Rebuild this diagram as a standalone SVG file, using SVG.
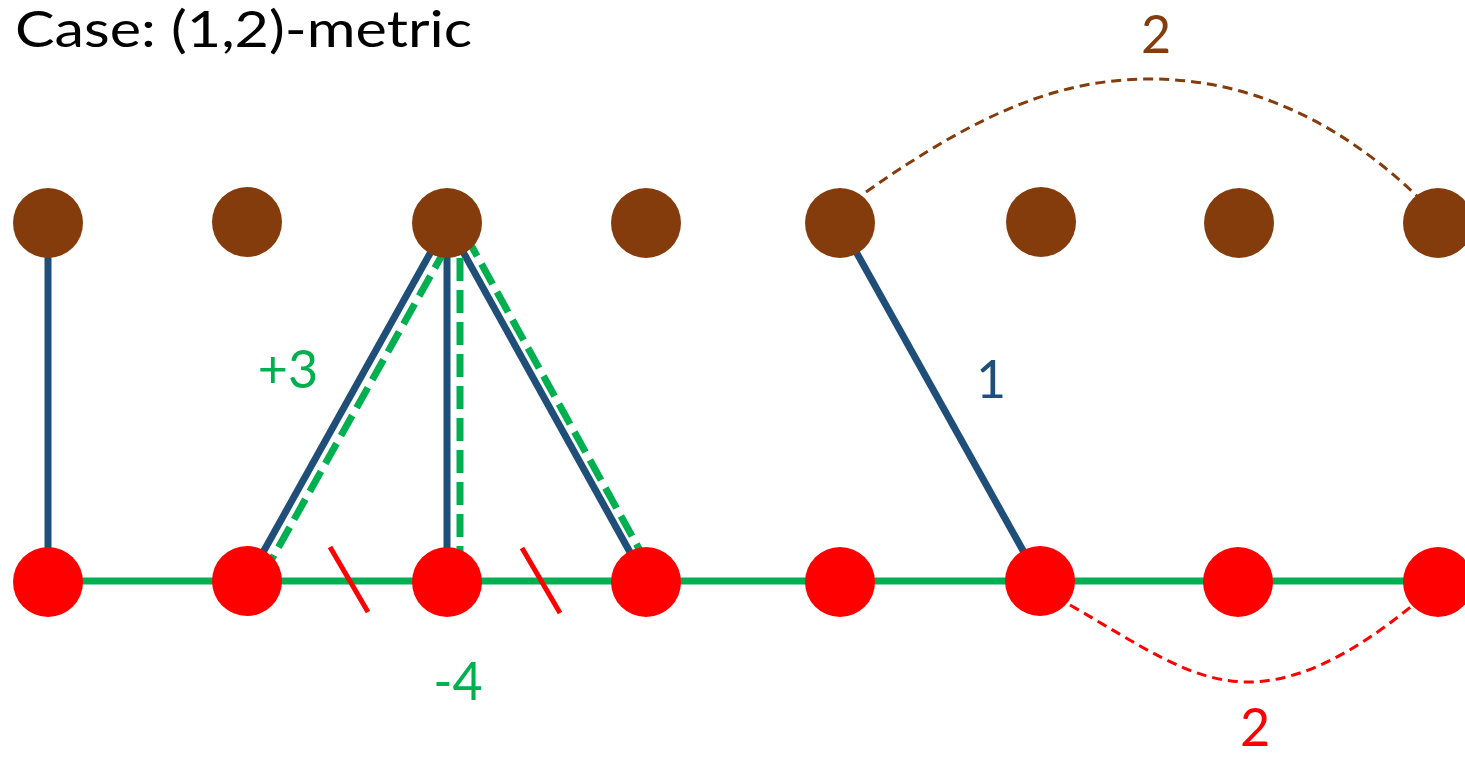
<svg xmlns="http://www.w3.org/2000/svg" width="1465" height="757" viewBox="0 0 1465 757">
<style>
.lbl{font-family:Lato,"Liberation Sans",sans-serif;font-size:52px;text-anchor:middle}
.top{fill:#843C0C}
.bot{fill:#FF0000}
.blue{stroke:#1F4E79;stroke-width:7;fill:none}
.gdash{stroke:#00B050;stroke-width:7;stroke-dasharray:23 9;fill:none}
.gline{stroke:#00B050;stroke-width:7;fill:none}
.cut{stroke:#FF0000;stroke-width:5}
</style>
<rect width="1465" height="757" fill="#fff"/>
<text x="15" y="47" style="font-family:Lato,'Liberation Sans',sans-serif;font-size:50px" textLength="457" lengthAdjust="spacingAndGlyphs">Case: (1,2)-metric</text>
<g id="connectors">
<line class="gline" x1="48" y1="581" x2="1438" y2="581"/>
<line class="blue" x1="48" y1="223" x2="48" y2="581"/>
<line class="blue" x1="447" y1="223" x2="247" y2="581"/>
<line class="blue" x1="447" y1="223" x2="447" y2="581"/>
<line class="blue" x1="447" y1="223" x2="646" y2="581"/>
<line class="blue" x1="840" y1="223" x2="1040" y2="581"/>
<line class="gdash" x1="446" y1="248" x2="268" y2="566"/>
<line class="gdash" x1="460" y1="258" x2="460" y2="560"/>
<line class="gdash" x1="466" y1="236" x2="643" y2="556"/>
<path d="M866 192 C980 112 1060 79 1150 79 C1250 79 1340 122 1418 197" stroke="#843C0C" stroke-width="3" stroke-dasharray="10 6" fill="none"/>
<path d="M1070 605 C1140 645 1190 682 1248 682 C1310 682 1370 640 1413 605" stroke="#FF0000" stroke-width="3" stroke-dasharray="10 6" fill="none"/>
</g>
<g id="top-nodes">
<circle id="t1" class="top" cx="48" cy="223" r="35"/>
<circle id="t2" class="top" cx="247" cy="222" r="35"/>
<circle id="t3" class="top" cx="447" cy="223" r="35"/>
<circle id="t4" class="top" cx="646" cy="223" r="35"/>
<circle id="t5" class="top" cx="840" cy="223" r="35"/>
<circle id="t6" class="top" cx="1041" cy="222" r="35"/>
<circle id="t7" class="top" cx="1239" cy="223" r="35"/>
<circle id="t8" class="top" cx="1438" cy="223" r="35"/>
</g>
<g id="bottom-nodes">
<circle id="b1" class="bot" cx="48" cy="582" r="35"/>
<circle id="b2" class="bot" cx="247" cy="581" r="35"/>
<circle id="b3" class="bot" cx="447" cy="582" r="35"/>
<circle id="b4" class="bot" cx="646" cy="582" r="35"/>
<circle id="b5" class="bot" cx="840" cy="582" r="35"/>
<circle id="b6" class="bot" cx="1040" cy="581" r="35"/>
<circle id="b7" class="bot" cx="1238" cy="582" r="35"/>
<circle id="b8" class="bot" cx="1438" cy="582" r="35"/>
</g>
<g id="cuts">
<line class="cut" x1="330" y1="547" x2="368" y2="612"/>
<line class="cut" x1="522" y1="548" x2="560" y2="613"/>
</g>
<g id="labels">
<text class="lbl" x="288" y="388" fill="#00B050">+3</text>
<text class="lbl" x="991" y="398" fill="#1F4E79">1</text>
<text class="lbl" x="458" y="700" fill="#00B050">-4</text>
<text class="lbl" x="1156" y="53" fill="#843C0C">2</text>
<text class="lbl" x="1255" y="746" fill="#FF0000">2</text>
</g>
</svg>
